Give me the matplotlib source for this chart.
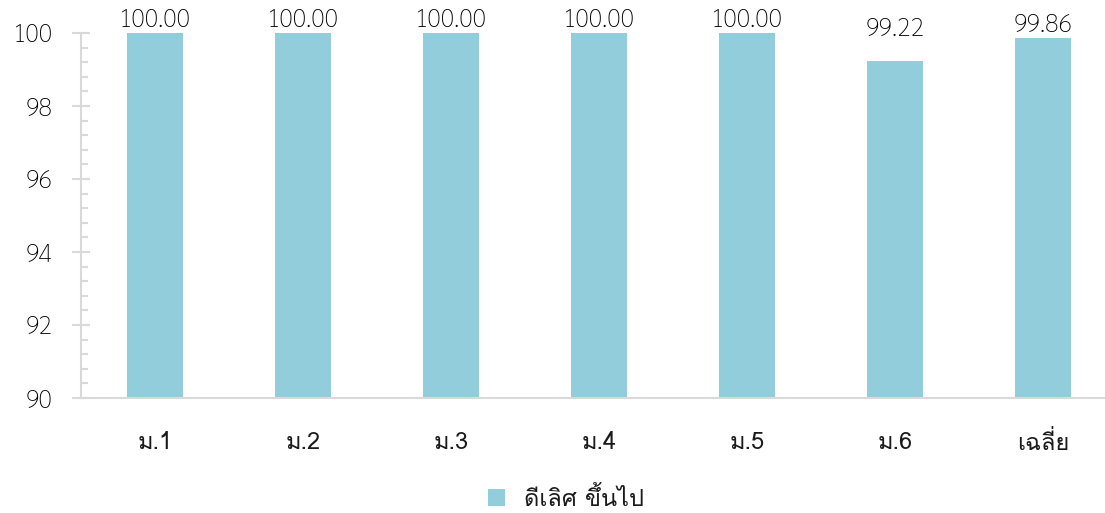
import matplotlib
matplotlib.use('Agg')
import matplotlib.pyplot as plt
from matplotlib.ticker import MultipleLocator

plt.rcParams['font.family'] = ['Sarabun', 'DejaVu Sans']
plt.rcParams['font.weight'] = 'light'

# ข้อมูล
categories = ['ม.1', 'ม.2', 'ม.3', 'ม.4', 'ม.5', 'ม.6', 'เฉลี่ย']
values = [100.00, 100.00, 100.00, 100.00, 100.00, 99.22, 99.86]
label_lift = [0, 0, 0, 0, 0, 14, 0]   # ป้าย 99.22 ในต้นฉบับลอยสูงกว่าแท่ง
series_name = 'ดีเลิศ ขึ้นไป'

bar_color = '#92CDDC'
grey = '#D9D9D9'
thai_font = ['Loma', 'DejaVu Sans']

fig = plt.figure(figsize=(11.05, 5.13), dpi=100)
ax = fig.add_axes([81 / 1105, 1 - 398 / 513, 1 - 81 / 1105, 365 / 513])

x = range(len(categories))
bars = ax.bar(x, values, width=0.385, color=bar_color, label=series_name, zorder=2)

for xi, v, lift in zip(x, values, label_lift):
    ax.annotate(f'{v:.2f}', (xi, v), xytext=(0, lift), textcoords='offset points',
                ha='center', va='bottom', fontsize=18, color='black',
                annotation_clip=False)

ax.set_ylim(90, 100)
ax.set_xlim(-0.5, -0.5 + 1024 / 148)
ax.yaxis.set_major_locator(MultipleLocator(2))
ax.yaxis.set_minor_locator(MultipleLocator(0.4))
ax.set_xticks(list(x))
ax.set_xticklabels(categories, family=thai_font, fontsize=17, fontweight='light',
                   color='#1a1a1a')

for s in ['top', 'right']:
    ax.spines[s].set_visible(False)
for s in ['left', 'bottom']:
    ax.spines[s].set_color(grey)
    ax.spines[s].set_linewidth(1.5)

ax.tick_params(axis='y', which='major', direction='inout', length=13, width=1.5,
               color=grey, labelsize=18, pad=14)
ax.tick_params(axis='y', which='minor', direction='in', length=5, width=1.5, color=grey)
ax.tick_params(axis='x', length=0, pad=24)

leg = fig.legend(handles=[bars], labels=[series_name], loc='center',
                 bbox_to_anchor=(566 / 1105, 1 - 499 / 513), frameon=False,
                 prop={'family': thai_font, 'size': 17, 'weight': 'light'},
                 handlelength=0.75, handleheight=0.75, handletextpad=0.8)
for t in leg.get_texts():
    t.set_color('#1a1a1a')

fig.savefig('out.png')
